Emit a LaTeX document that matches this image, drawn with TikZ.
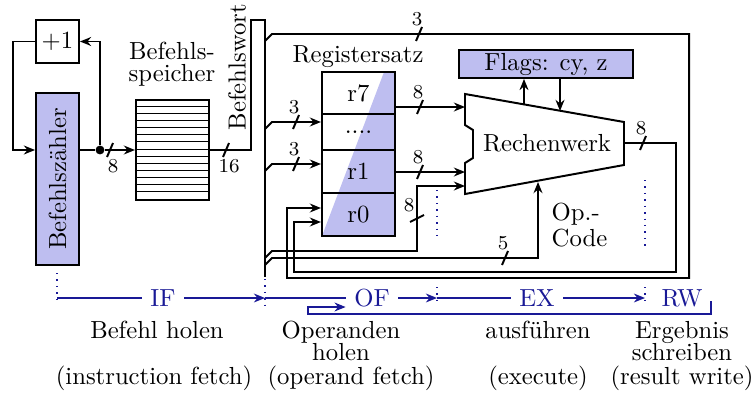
\documentclass[tikz,border=0pt]{standalone}
\usepackage{tikz}
\usetikzlibrary{shapes,arrows,arrows.meta,positioning,calc}
\usepackage{xcolor}
\definecolor{regfill}{RGB}{190,190,240}
\definecolor{stageblue}{RGB}{25,25,150}
\tikzset{
    box/.style={rectangle, draw=black, thick, inner sep=0pt, minimum width=29.6pt},
    fbox/.style={box, fill=regfill},
    wire/.style={thick, black},
    sig/.style={thick, black, -{Stealth[length=4.5pt, width=3.6pt]}},
    stage/.style={stageblue, semithick},
    stagearrow/.style={stage, -{Stealth[length=4.5pt, width=3.6pt]}},
    stagetext/.style={text=stageblue},
    tick/.style={dotted, stageblue, semithick},
    dot/.style={circle, fill=black, inner sep=0pt, minimum size=3.6pt},
    widthlabel/.style={font=\footnotesize, inner sep=0.5pt},
}
% bus width marks
\newcommand{\slashup}[2]{\draw[wire] ($(#1)+(-3,7)$) -- ($(#1)+(3,-7)$);
    \node[widthlabel, anchor=south] at ($(#1)+(-2,-6)$) {#2};}
\newcommand{\slashdown}[2]{\draw[wire] ($(#1)+(-3,7)$) -- ($(#1)+(3,-7)$);
    \node[widthlabel, anchor=north] at ($(#1)+(3,8)$) {#2};}
\newcommand{\slashvert}[2]{\draw[wire] ($(#1)+(-7,4)$) -- ($(#1)+(7,-3)$);
    \node[widthlabel, anchor=south] at ($(#1)+(-8,-4)$) {#2};}

\begin{document}
\begin{tikzpicture}[x=0.405pt, y=-0.405pt]
    \useasboundingbox (0,0) rectangle (755,396);

    % Befehlszaehler and +1 loop
    \node[fbox, minimum width=17.4pt, minimum height=69.7pt] (pc) at (57.5,179) {};
    \node[rotate=90] at (pc) {Befehlszähler};
    \node[box, minimum width=17.4pt, minimum height=17.4pt] (inc) at (57.5,41.5) {$+1$};
    \node[dot] (split) at (100,150) {};
    \draw[sig] (inc.west) -- ++(-22,0) |- (pc.west |- split);
    \draw[wire] (pc.east |- split) -- (split);
    \draw[sig] (split) |- (inc.east);

    % Befehlsspeicher
    \node[box, minimum height=40.5pt] (imem) at (172.5,150) {};
    \foreach \i in {1,...,13}
        \draw[thin] ($(imem.north west)+(0,\i*100/14)$) -- ($(imem.north east)+(0,\i*100/14)$);
    \node[align=center] (imemlbl) at (172,64) {Befehls-\\[-3pt]speicher};
    \draw[sig] (split) -- (imem.west |- split);
    \slashdown{110,150}{8}

    % Befehlswort bus
    \coordinate (bustop) at (265,20);
    \coordinate (busend) at (265,277);
    \draw[wire] (imem.east) -- (251,150) -- (251,20) -- (bustop) -- (busend);
    \node[rotate=90] (buslbl) at (237,67) {Befehlswort};
    \slashdown{226,150}{16}

    % Registersatz
    \fill[regfill] (322,236) -- (395,236) -- (395,72) -- (384,72) -- cycle;
    \node[box, minimum height=17pt] (r7) at (358.5,93) {r7};
    \node[box, minimum height=14.6pt] (rdots) at (358.5,132) {....};
    \node[box, minimum height=17.4pt] (r1) at (358.5,171.5) {r1};
    \node[box, minimum height=17.4pt] (r0) at (358.5,214.5) {r0};
    \node (regslbl) at (358,57) {Registersatz};

    % Rechenwerk and flags
    \draw[thick] (465,94) -- (624,122) -- (624,165) -- (465,194) -- (465,163)
        -- (473,158) -- (473,130) -- (465,125) -- cycle;
    \node (alu) at (547,143) {Rechenwerk};
    \coordinate (alu-a) at (465,107);
    \coordinate (alu-b) at (465,172);
    \coordinate (alu-c) at (465,186);
    \coordinate (alu-op) at (538,182);
    \coordinate (alu-out) at (624,143);
    \coordinate (cyout) at (524,104);
    \coordinate (zin) at (560,111);
    \node[fbox, minimum width=70.5pt, minimum height=11.3pt] (flags) at (546,64) {Flags: cy, z};
    \draw[sig] (cyout) -- (cyout |- flags.south);
    \draw[sig] (flags.south -| zin) -- (zin);
    \node[align=left, anchor=west] (oplbl) at (543,225) {Op.-\\[-1.5pt]Code};

    % data paths
    \draw[sig] (r7.east |- alu-a) -- (alu-a);
    \draw[sig] (r1.east |- alu-b) -- (alu-b);
    \slashup{420,107}{8}
    \slashup{420,172}{8}
    \foreach \y in {122,164} {
        \draw[sig] (265,\y+7) -- (272,\y) -- (r0.west |- 0,\y);
        \slashup{296,\y}{3}
    }
    \draw[sig] (265,41) -- (272,34) -| (689,278) -| (287,208) -- (r0.west |- 0,208);
    \slashup{419,34}{3}
    \draw[sig] (alu-out) -| (676,272) -| (294,222) -- (r0.west |- 0,222);
    \slashup{643,143}{8}
    \draw[sig] (265,258) -- (272,251) -| (417,186) -- (alu-c);
    \slashvert{417,218}{8}
    \draw[sig] (265,265) -- (272,258) -| (alu-op);
    \slashup{505,258}{5}

    % Phasen
    \foreach \x/\ya/\yb in {57/273/305, 265/279/307, 437/287/302, 645/287/302, 437/190/237, 645/180/250}
        \draw[tick] (\x,\ya) -- (\x,\yb);
    \coordinate (t0) at (57,298);
    \coordinate (t1) at (265,298);
    \coordinate (t2) at (437,298);
    \coordinate (t3) at (645,298);
    \node[stagetext] (IF) at (163,298) {IF};
    \node[stagetext] (OF) at (372,298) {OF};
    \node[stagetext] (EX) at (537,298) {EX};
    \node[stagetext] (RW) at (682,298) {RW};
    \draw[stage] (t0) -- (IF);
    \draw[stagearrow] (IF) -- (t1);
    \draw[stage] (t1) -- (OF);
    \draw[stagearrow] (OF) -- (t2);
    \draw[stage] (t2) -- (EX);
    \draw[stagearrow] (EX) -- (t3);
    \draw[stagearrow] ($(RW.east)+(0,4)$) -| (711,314) -| (308,307) -- ($(OF.west)+(0,9)$);

    \node (if-de) at (157,330) {Befehl holen};
    \node[align=center] (of-de) at (341,341) {Operanden\\[-3pt]holen};
    \node (ex-de) at (538,330) {ausführen};
    \node[align=center] (rw-de) at (682,341) {Ergebnis\\[-3pt]schreiben};
    \node (if-en) at (154,378) {(instruction fetch)};
    \node (of-en) at (351,378) {(operand fetch)};
    \node (ex-en) at (538,378) {(execute)};
    \node (rw-en) at (682,378) {(result write)};
\end{tikzpicture}
\end{document}
